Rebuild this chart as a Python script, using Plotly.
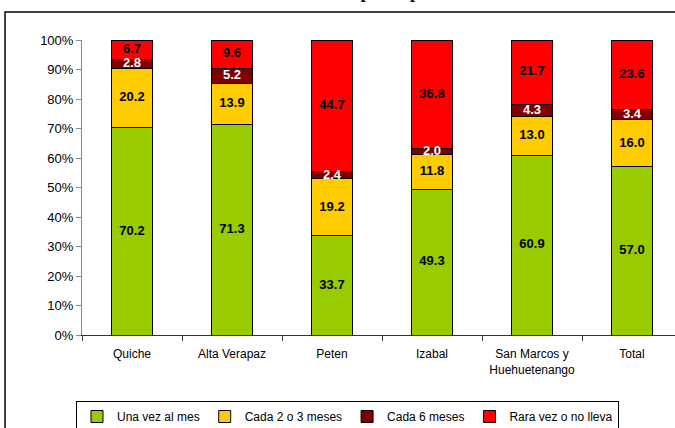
import plotly.graph_objects as go

categories = ["Quiche", "Alta Verapaz", "Peten", "Izabal", "San Marcos y<br>Huehuetenango", "Total"]
una_vez_al_mes = [70.2, 71.3, 33.7, 49.3, 60.9, 57.0]
cada_2_o_3_meses = [20.2, 13.9, 19.2, 11.8, 13.0, 16.0]
cada_6_meses = [2.8, 5.2, 2.4, 2.0, 4.3, 3.4]
rara_vez_o_no_lleva = [6.7, 9.6, 44.7, 36.8, 21.7, 23.6]
series_names = ["Una vez al mes", "Cada 2 o 3 meses", "Cada 6 meses", "Rara vez o no lleva"]
y_tick_values = [0, 10, 20, 30, 40, 50, 60, 70, 80, 90, 100]
y_tick_labels = ["0%", "10%", "20%", "30%", "40%", "50%", "60%", "70%", "80%", "90%", "100%"]
title_text = "Frecuencia de control por departamento"

FONT = "Liberation Sans, Arial, sans-serif"
series = [una_vez_al_mes, cada_2_o_3_meses, cada_6_meses, rara_vez_o_no_lleva]
colors = ["#99CC00", "#FFCC00", "#800000", "#FF0000"]
text_colors = ["black", "black", "white", "black"]

fig = go.Figure()
for name, vals, col in zip(series_names, series, colors):
    fig.add_trace(go.Bar(
        x=categories, y=vals, name=name,
        marker=dict(color=col, line=dict(color="black", width=1)),
        width=0.41, hoverinfo="skip",
    ))

# value labels, placed at the middle of each (normalized) segment
totals = [sum(col) for col in zip(*series)]
base = [0.0] * len(categories)
for vals, tcol in zip(series, text_colors):
    mids = []
    for i, v in enumerate(vals):
        h = v / totals[i] * 100
        mids.append(base[i] + h / 2)
        base[i] += h
    fig.add_trace(go.Scatter(
        x=categories, y=mids, mode="text", text=[f"{v:.1f}" for v in vals],
        textposition="middle center", cliponaxis=False, showlegend=False, hoverinfo="skip",
        textfont=dict(family=FONT, size=13, color=tcol, weight="bold"),
    ))

# outer chart frame (left, top and bottom edges; the right edge lies beyond the view)
frame_path = "M 1.4,-0.4 L -0.1298,-0.4 L -0.1298,1.0949 L 1.4,1.0949"

fig.update_layout(
    barmode="stack", barnorm="percent",
    width=675, height=428,
    margin=dict(l=82, r=0, t=40, b=93, autoexpand=False),
    paper_bgcolor="white", plot_bgcolor="white",
    font=dict(family=FONT, size=12, color="black"),
    showlegend=True,
    legend=dict(orientation="h", x=0.4477, xanchor="center", y=-0.2237, yanchor="top",
                bordercolor="black", borderwidth=1, font=dict(size=12, family=FONT),
                traceorder="normal", itemwidth=30),
    shapes=[dict(type="path", xref="paper", yref="paper", path=frame_path,
                 line=dict(color="black", width=1.5), layer="below")],
    annotations=[dict(text="<b>" + title_text + "</b>", xref="paper", yref="paper",
                      x=0.4435, y=1.122, xanchor="center", yanchor="bottom",
                      showarrow=False, font=dict(family="Liberation Serif, Times New Roman, serif", size=18))],
)
fig.update_xaxes(type="category", range=[-0.5, 5.43], showline=True, linecolor="#333333",
                 linewidth=1, ticks="outside", tickson="boundaries", ticklen=5, tickcolor="#333333",
                 showgrid=False, ticklabelstandoff=8, tickfont=dict(size=12, family=FONT))
fig.update_yaxes(range=[0, 100], tickvals=y_tick_values, ticktext=y_tick_labels, showline=True,
                 linecolor="#888888", linewidth=1, ticks="outside", ticklen=5, tickcolor="#888888",
                 showgrid=False, zeroline=False, tickfont=dict(size=13, family=FONT))

fig.write_html("out.html", config={"displayModeBar": False},
               post_script="document.body.style.margin='0';document.body.style.overflow='hidden';")
